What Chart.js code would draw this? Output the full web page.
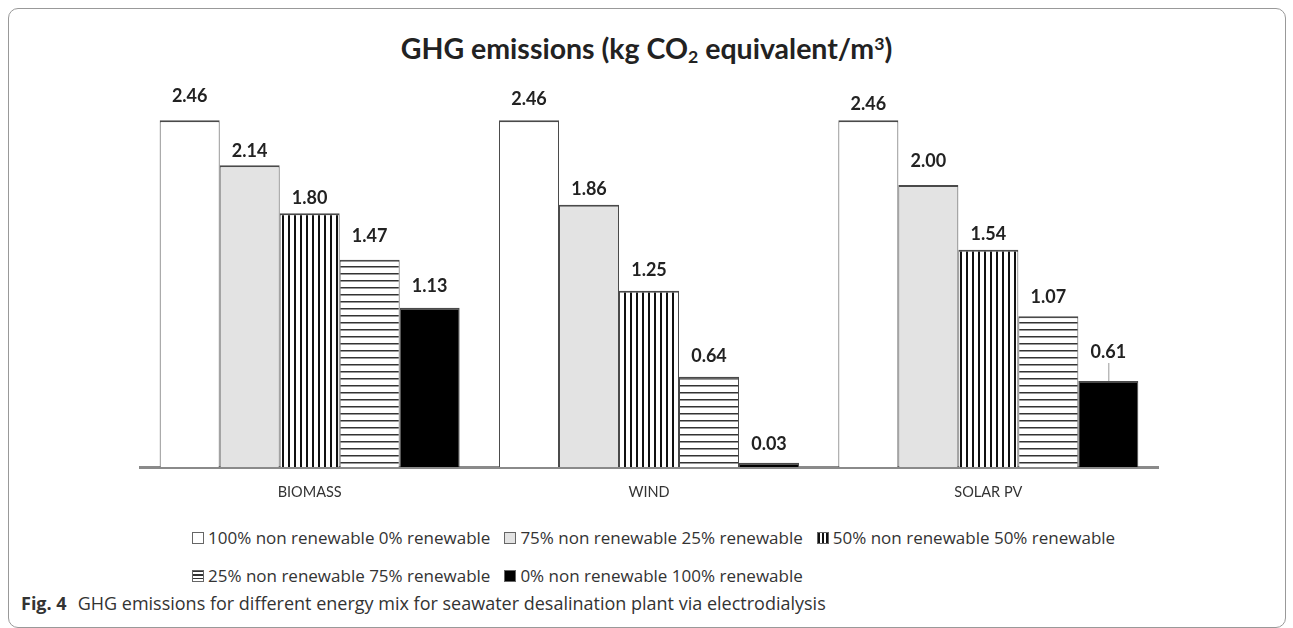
<!DOCTYPE html>
<html>
<head>
<meta charset="utf-8">
<script src="https://cdn.jsdelivr.net/npm/chart.js@4.4.1/dist/chart.umd.min.js"></script>
<style>
  body { margin: 0; background: #fff; width: 1293px; height: 628px; overflow: hidden; position: relative; }
  #frame { position: absolute; left: 8px; top: 8px; width: 1276px; height: 618px; border: 1px solid #999; border-radius: 10px; }
  #title { position: absolute; left: 0; width: 1293px; top: 29px; text-align: center; font: bold 28.5px Lato, sans-serif; color: #222; line-height: 38px; }
  #title sub { font-size: 0.62em; line-height: 0; vertical-align: -0.25em; }
  #title sup { font-size: 0.62em; line-height: 0; vertical-align: 0.5em; }
  #wrap { position: absolute; left: 0; top: 0; width: 1293px; height: 510px; }
  .row { position: absolute; display: flex; align-items: center; font: 17px "Open Sans", sans-serif; color: #333; line-height: 20px; white-space: nowrap; }
  .item { display: flex; align-items: center; margin-right: 14px; }
  .box { width: 10px; height: 10px; border: 1px solid #666; margin-right: 4px; box-sizing: content-box; }
  #caption { position: absolute; left: 21px; top: 591px; font: 18px "Open Sans", sans-serif; color: #333; line-height: 24px; white-space: nowrap; }
  #caption b { margin-right: 11px; }
</style>
</head>
<body>
<div id="frame"></div>
<div id="title">GHG emissions (kg CO<sub>2</sub> equivalent/m<sup>3</sup>)</div>
<div id="wrap"><canvas id="grafico" width="1293" height="510"></canvas></div>
<div class="row" id="leg1" style="left:192px; top:528px;"></div>
<div class="row" id="leg2" style="left:192px; top:566px;"></div>
<div id="caption"><b>Fig. 4</b>GHG emissions for different energy mix for seawater desalination plant via electrodialysis</div>

<script>
// Categorias e séries (kg CO2 eq/m3)
const categorias = ['BIOMASS', 'WIND', 'SOLAR PV'];
const series = [
  '100% non renewable 0% renewable',
  '75% non renewable 25% renewable',
  '50% non renewable 50% renewable',
  '25% non renewable 75% renewable',
  '0% non renewable 100% renewable'
];
const valores100 = [2.46, 2.46, 2.46];
const valores75 = [2.14, 1.86, 2.00];
const valores50 = [1.80, 1.25, 1.54];
const valores25 = [1.47, 0.64, 1.07];
const valores0 = [1.13, 0.03, 0.61];

// distância (px) entre o rótulo e o topo da barra, como no original
const distRotulo = [
  [24, 21, 16],
  [14, 16, 24],
  [15, 21, 16],
  [24, 21, 19],
  [21, 19, 29]
];

function criarPadrao(tipo) {
  const c = document.createElement('canvas');
  const x = c.getContext('2d');
  if (tipo === 'v') {
    c.width = 6; c.height = 6;
    x.fillStyle = '#fff'; x.fillRect(0, 0, 6, 6);
    x.fillStyle = '#111'; x.fillRect(0, 0, 2, 6);
  } else {
    c.width = 7; c.height = 7;
    x.fillStyle = '#fff'; x.fillRect(0, 0, 7, 7);
    x.fillStyle = '#333'; x.fillRect(0, 0, 7, 1.5);
  }
  return x.createPattern(c, 'repeat');
}

const cores = ['#ffffff', '#e3e3e3', criarPadrao('v'), criarPadrao('h'), '#000000'];
const dados = [valores100, valores75, valores50, valores25, valores0];

// Rótulos de valor acima das barras
const rotulos = {
  id: 'rotulos',
  afterDatasetsDraw(chart) {
    const ctx = chart.ctx;
    ctx.save();
    ctx.font = 'bold 18px Lato, sans-serif';
    ctx.fillStyle = '#222';
    ctx.textAlign = 'center';
    ctx.textBaseline = 'middle';
    chart.data.datasets.forEach((ds, i) => {
      chart.getDatasetMeta(i).data.forEach((bar, j) => {
        const d = distRotulo[i][j];
        ctx.fillText(ds.data[j].toFixed(2), bar.x, bar.y - d);
        if (d > 26) {
          ctx.strokeStyle = '#999';
          ctx.lineWidth = 1;
          ctx.beginPath();
          ctx.moveTo(bar.x + 0.5, bar.y - d + 11);
          ctx.lineTo(bar.x + 0.5, bar.y);
          ctx.stroke();
        }
      });
    });
    ctx.restore();
  }
};

new Chart(document.getElementById('grafico'), {
  type: 'bar',
  data: {
    labels: categorias,
    datasets: series.map((s, i) => ({
      label: s,
      data: dados[i],
      backgroundColor: cores[i],
      borderColor: '#4a4a4a',
      borderWidth: { top: 2, left: 1, right: 1, bottom: 0 },
      borderSkipped: false,
      barPercentage: 1,
      categoryPercentage: 0.884
    }))
  },
  options: {
    responsive: false,
    animation: false,
    layout: { padding: { left: 140, right: 135, top: 44, bottom: 0 } },
    plugins: { legend: { display: false }, tooltip: { enabled: false } },
    scales: {
      x: {
        grid: { display: false, drawTicks: false },
        border: { display: true, color: '#8a8a8a', width: 3 },
        ticks: { color: '#333', font: { family: 'Lato, sans-serif', size: 14.5 }, padding: 17 },
        afterFit(scale) { scale.height = 43; }
      },
      y: { display: false, min: 0, max: 3 }
    }
  },
  plugins: [rotulos]
});

// Legenda em duas linhas (3 + 2 itens)
const estilosCaixa = [
  'background:#fff',
  'background:#e3e3e3',
  'background:repeating-linear-gradient(90deg,#111 0 2px,#fff 2px 4px)',
  'background:repeating-linear-gradient(180deg,#333 0 1.5px,#fff 1.5px 3.5px)',
  'background:#000'
];
series.forEach((s, i) => {
  const item = document.createElement('div');
  item.className = 'item';
  item.innerHTML = `<span class="box" style="${estilosCaixa[i]}"></span>${s}`;
  document.getElementById(i < 3 ? 'leg1' : 'leg2').appendChild(item);
});
</script>
</body>
</html>
